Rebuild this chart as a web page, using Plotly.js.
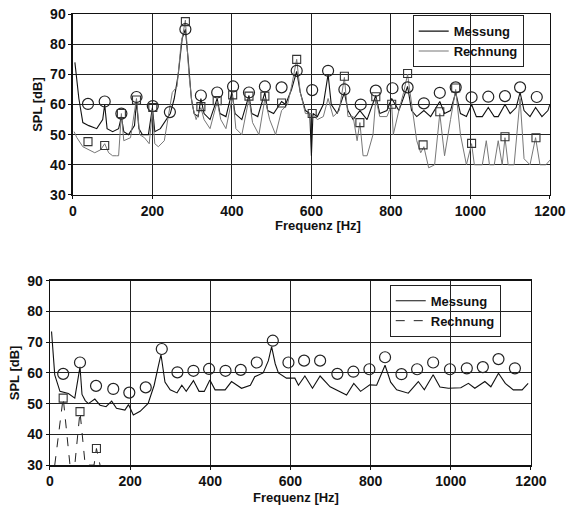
<!DOCTYPE html>
<html>
<head>
<meta charset="utf-8">
<script src="https://cdn.plot.ly/plotly-3.0.1.min.js"></script>
<style>html,body{margin:0;padding:0;background:#fff;}#chart{width:574px;height:505px;}</style>
</head>
<body>
<div id="chart"></div>
<script>
// ---------- Top chart data ----------
var topMessF  = [5,15,25,40,60,75,80,86,100,115,122,128,140,155,160,166,175,190,200,206,220,235,245,255,265,275,283,290,298,305,315,322,330,345,363,370,385,400,408,425,443,450,465,483,490,505,525,535,550,563,572,585,596,600,604,615,630,642,650,665,683,692,705,722,740,762,772,790,802,820,842,852,865,883,900,923,935,950,963,975,990,1003,1015,1030,1045,1060,1070,1087,1100,1115,1125,1135,1150,1164,1180,1195,1200];
var topMessDB = [74,62,54,53,52,55,60,52,51,52,56,51,50,53,61,52,50,50,59,51,52,55,57,62,70,82,85,75,62,57,56,62,57,55,62,57,56,64,57,55,63,57,56,64,58,57,61,60,65,71,64,58,57,43,57,56,60,70,60,57,64,58,55,58,55,63,57,58,62,58,66,58,56,58,56,61,57,58,64,57,56,60,56,56,59,56,56,60,57,59,64,58,56,59,56,58,60];

var topRechF  = [3,10,25,40,55,70,80,90,100,110,115,122,128,145,160,168,180,192,200,206,215,230,240,250,262,272,283,292,300,310,322,330,345,363,372,385,402,410,425,443,452,468,483,495,510,525,540,550,563,572,585,600,615,630,642,655,670,683,692,705,715,722,730,740,755,762,772,790,802,806,820,832,842,852,865,875,883,895,910,923,935,950,963,975,990,1003,1010,1030,1040,1048,1060,1070,1080,1087,1095,1110,1125,1135,1150,1164,1175,1190,1203];
var topRechDB = [51,49,46,45,44,45,47,44,43,43,43,57,48,49,62,50,49,47,58,47,46,48,56,64,66,80,88,70,60,55,59,55,52,61,55,52,63,52,50,62,54,50,62,55,50,58,60,66,75,64,57,57,55,56,62,56,58,69,56,56,48,54,43,43,50,62,56,56,60,50,58,64,70,60,48,44,46,39,40,57,43,55,65,50,40,47,40,40,48,40,40,48,40,49,40,40,62,42,40,49,40,40,42];

var topCircF  = [38,80,122,160,201,244,283,322,363,403,443,483,525,563,602,642,683,724,762,804,842,883,923,963,1003,1045,1087,1125,1167,1205];
var topCircDB = [60.2,61,57,62.5,59.5,57.5,85,63,64,66,64,66,65.7,71.2,64.8,71.2,65,60,64.6,65.4,65.7,60.4,63.9,65.7,62.4,62.6,62.8,65.7,62.5,63];

var topSqF  = [38,80,122,160,201,283,322,363,402,443,483,525,563,602,683,722,762,802,842,881,923,963,1003,1087,1165,1205];
var topSqDB = [47.7,46.4,57,61.5,59,87.5,59.3,61.3,63.2,62.8,62.8,60.5,75,57,69.4,54,62.6,60.1,70.3,46.6,57.6,65.5,47.1,49.3,49,43.3];

// ---------- Bottom chart data ----------
var botMessF  = [4,12,25,37,46,62,72,75,80,88,96,112,125,140,154,166,187,196,208,225,245,260,270,277,287,300,317,329,340,358,372,385,399,412,437,453,478,500,511,532,545,553,562,570,590,611,620,636,655,674,699,723,740,758,775,798,815,836,850,865,894,919,934,956,973,994,1025,1044,1060,1085,1100,1119,1136,1156,1178,1193];
var botMessDB = [73.5,59.4,54,53.5,53.3,51.8,60,62,53,51,50,51.5,49.5,49,50.8,48.5,47.9,49.7,46.3,47.5,50.1,56,62,66,57,54.5,53.5,56,54,57.5,54,54,57.7,54.5,54.5,57.2,55,56,58.8,60,64,68.6,63,60,58.3,58.3,56,59,55,59,55.5,53.9,52.8,56.6,54,56.1,56,62.5,57,54.5,53.4,57.2,54.5,59.4,55.4,55,55.2,56.6,55,57.2,55.5,59.9,56.6,54.5,54.5,56.6];

var botRechF  = [12,33,50,62,75,88,110,116,125];
var botRechDB = [30,52,30,30,47.4,30,30,35.4,30];

var botCircF  = [33,75,115,158,198,239,279,318,358,397,438,476,516,556,595,634,674,717,757,797,836,877,916,956,998,1040,1080,1119,1160,1202];
var botCircDB = [59.7,63.4,55.8,54.8,53.6,55.3,67.8,60.2,60.7,61.3,60.7,61,63.4,70.5,63.4,64,64,59.7,60.4,61.2,65.1,59.6,61.2,63.4,61.2,61.5,61.9,64.5,61.5,61.9];

var botSqF  = [33,75,116];
var botSqDB = [51.8,47.4,35.4];

// ---------- Axes labels ----------
var xTicks = [0,200,400,600,800,1000,1200];
var yTicks = [30,40,50,60,70,80,90];
var xTitle = 'Frequenz [Hz]';
var yTitle = 'SPL [dB]';
var names = ['Messung','Rechnung'];

var font = {family:'Liberation Sans, Arial, sans-serif', size:14, color:'#111', weight:'bold'};
var tfont = {family:'Liberation Sans, Arial, sans-serif', size:13, color:'#111', weight:'bold'};

var traces = [
  {x:topMessF, y:topMessDB, type:'scatter', mode:'lines', name:names[0], line:{color:'#111', width:1.1}, xaxis:'x', yaxis:'y', legend:'legend'},
  {x:topRechF, y:topRechDB, type:'scatter', mode:'lines', name:names[1], line:{color:'#777', width:1}, xaxis:'x', yaxis:'y', legend:'legend'},
  {x:topCircF, y:topCircDB, type:'scatter', mode:'markers', showlegend:false, cliponaxis:false, marker:{symbol:'circle-open', size:11, color:'#222', line:{width:1.2}}, xaxis:'x', yaxis:'y'},
  {x:topSqF, y:topSqDB, type:'scatter', mode:'markers', showlegend:false, cliponaxis:false, marker:{symbol:'square-open', size:8, color:'#333', line:{width:1.1}}, xaxis:'x', yaxis:'y'},
  {x:botMessF, y:botMessDB, type:'scatter', mode:'lines', name:names[0], line:{color:'#111', width:1.1}, xaxis:'x2', yaxis:'y2', legend:'legend2'},
  {x:botRechF, y:botRechDB, type:'scatter', mode:'lines', name:names[1], line:{color:'#222', width:1, dash:'dash'}, xaxis:'x2', yaxis:'y2', legend:'legend2'},
  {x:botCircF, y:botCircDB, type:'scatter', mode:'markers', showlegend:false, cliponaxis:false, marker:{symbol:'circle-open', size:11, color:'#222', line:{width:1.2}}, xaxis:'x2', yaxis:'y2'},
  {x:botSqF, y:botSqDB, type:'scatter', mode:'markers', showlegend:false, cliponaxis:false, marker:{symbol:'square-open', size:8, color:'#333', line:{width:1.1}}, xaxis:'x2', yaxis:'y2'}
];

function xa(domain, anchor){
  return {domain:domain, anchor:anchor, range:[0,1200], tickvals:xTicks, ticktext:xTicks.map(String),
    showgrid:true, gridcolor:'#222', gridwidth:1.1, zeroline:false, showline:true, linecolor:'#111', linewidth:1.4, mirror:true,
    ticks:'outside', ticklen:3, tickcolor:'#111', tickfont:font, automargin:false};
}
function ya(domain, anchor){
  return {domain:domain, anchor:anchor, range:[30,90], tickvals:yTicks, ticktext:yTicks.map(String),
    showgrid:true, gridcolor:'#222', gridwidth:1.1, zeroline:false, showline:true, linecolor:'#111', linewidth:1.4, mirror:true,
    ticks:'outside', ticklen:3, tickcolor:'#111', tickfont:font, automargin:false,
    title:{text:yTitle, font:tfont, standoff:4}};
}

var layout = {
  width:574, height:505,
  margin:{l:0, r:0, t:0, b:0},
  paper_bgcolor:'#fff', plot_bgcolor:'#fff',
  font:font,
  xaxis: xa([0.127,0.958],'y'),
  yaxis: ya([0.614,0.972],'x'),
  xaxis2: xa([0.087,0.925],'y2'),
  yaxis2: ya([0.079,0.444],'x2'),
  annotations:[
    {text:xTitle, xref:'paper', yref:'paper', x:318/574, y:1-226/505, xanchor:'center', yanchor:'middle', showarrow:false, font:tfont},
    {text:xTitle, xref:'paper', yref:'paper', x:296/574, y:1-497/505, xanchor:'center', yanchor:'middle', showarrow:false, font:tfont}
  ],
  legend:{x:0.719, y:0.970, xanchor:'left', yanchor:'top', bgcolor:'rgba(255,255,255,0)', bordercolor:'#222', borderwidth:1, font:tfont, tracegroupgap:0},
  legend2:{x:0.679, y:0.436, xanchor:'left', yanchor:'top', bgcolor:'rgba(255,255,255,0)', bordercolor:'#222', borderwidth:1, font:tfont, tracegroupgap:0},
  showlegend:true
};

Plotly.newPlot('chart', traces, layout, {staticPlot:true, displayModeBar:false});
</script>
</body>
</html>
